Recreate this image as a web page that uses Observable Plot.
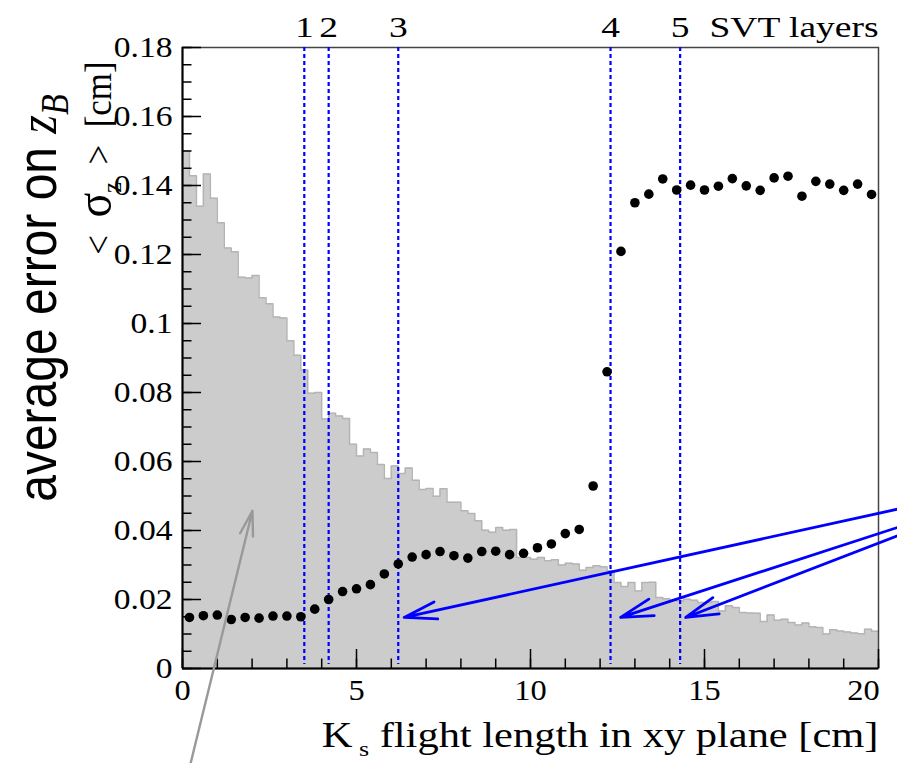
<!DOCTYPE html>
<html><head><meta charset="utf-8">
<script src="https://cdn.jsdelivr.net/npm/d3@7"></script>
<script src="https://cdn.jsdelivr.net/npm/@observablehq/plot@0.6"></script>
<style>body{margin:0;background:#fff} svg{display:block}</style>
</head><body><div id="chart"></div>
<script>
// histogram of Ks flight length (bins of 0.2 cm from 0 to 20), drawn on the y scale
const binWidth = 0.2;
const histValues = [
  0.1500,0.1428,0.1340,0.1433,0.1363,0.1292,0.1219,0.1208,0.1134,0.1132,
  0.1139,0.1075,0.1057,0.1019,0.1016,0.0950,0.0908,0.0865,0.0798,0.0800,
  0.0723,0.0740,0.0732,0.0725,0.0650,0.0616,0.0636,0.0626,0.0591,0.0551,
  0.0587,0.0565,0.0581,0.0546,0.0519,0.0522,0.0499,0.0521,0.0482,0.0482,
  0.0457,0.0449,0.0428,0.0401,0.0395,0.0409,0.0401,0.0403,0.0322,0.0322,
  0.0317,0.0322,0.0312,0.0315,0.0300,0.0305,0.0303,0.0285,0.0293,0.0298,
  0.0295,0.0283,0.0249,0.0238,0.0249,0.0225,0.0249,0.0250,0.0206,0.0202,
  0.0198,0.0196,0.0201,0.0198,0.0191,0.0191,0.0194,0.0167,0.0182,0.0177,
  0.0162,0.0161,0.0160,0.0136,0.0155,0.0140,0.0143,0.0133,0.0126,0.0132,
  0.0121,0.0119,0.0100,0.0112,0.0109,0.0106,0.0103,0.0101,0.0114,0.0108
];
// average sigma_z points
const pointX = [
  0.2,0.6,1.0,1.4,1.8,2.2,2.6,3.0,3.4,3.8,4.2,4.6,5.0,5.4,5.8,6.2,6.6,7.0,7.4,7.8,
  8.2,8.6,9.0,9.4,9.8,10.2,10.6,11.0,11.4,11.8,12.2,12.6,13.0,13.4,13.8,14.2,14.6,15.0,15.4,15.8,
  16.2,16.6,17.0,17.4,17.8,18.2,18.6,19.0,19.4,19.8
];
const sigmaZ = [
  0.0148,0.0153,0.0155,0.0142,0.0148,0.0146,0.0152,0.0152,0.0150,0.0172,
  0.0200,0.0223,0.0231,0.0243,0.0274,0.0303,0.0323,0.0330,0.0339,0.0327,
  0.0320,0.0339,0.0340,0.0330,0.0334,0.0350,0.0361,0.0391,0.0403,0.0529,
  0.0860,0.1209,0.1350,0.1375,0.1419,0.1387,0.1401,0.1387,0.1398,0.1420,
  0.1399,0.1386,0.1422,0.1427,0.1369,0.1412,0.1404,0.1386,0.1404,0.1374
];
// SVT layer radii
const layerX = [3.5, 4.2, 6.2, 12.3, 14.3];
const layerLabels = ["1", "2", "3", "4", "5"];
// annotation arrows
const blueX1 = [20.55, 20.55, 20.55];
const blueY1 = [0.0462, 0.0409, 0.0385];
const blueX2 = [6.37, 12.59, 14.46];
const blueY2 = [0.0148, 0.0148, 0.0148];
const grayArrow = [{x1: 0.23, y1: -0.0276, x2: 2.01, y2: 0.0457}];
// ticks
const xTicks = [0, 5, 10, 15, 20];
const xTickLabels = ["0", "5", "10", "15", "20"];
const xMinor = d3.range(0, 21, 1);
const yTicks = [0, 0.02, 0.04, 0.06, 0.08, 0.1, 0.12, 0.14, 0.16, 0.18];
const yTickLabels = ["0", "0.02", "0.04", "0.06", "0.08", "0.1", "0.12", "0.14", "0.16", "0.18"];
const yMinor = d3.range(0, 37).map(i => +(i * 0.005).toFixed(3));

const steps = histValues.map((v, i) => ({x: +(i * binWidth).toFixed(2), y: v}));
steps.push({x: 20, y: histValues[histValues.length - 1]});
const points = pointX.map((x, i) => ({x, y: sigmaZ[i]}));
const blueArrows = blueX1.map((x1, i) => ({x1, y1: blueY1[i], x2: blueX2[i], y2: blueY2[i]}));
const xLabelFmt = d => xTickLabels[xTicks.indexOf(d)];
const xLast = xTicks[xTicks.length - 1];

const serif = "Liberation Serif, Times New Roman, serif";
const sans = "Liberation Sans, Arial, Helvetica, sans-serif";

const chart = Plot.plot({
  width: 897, height: 763,
  marginLeft: 182, marginRight: 19, marginTop: 47, marginBottom: 95,
  style: {fontFamily: serif, fontSize: "30px", background: "#fff", color: "#000"},
  x: {domain: [0, 20], label: null},
  y: {domain: [0, 0.18], label: null},
  marks: [
    Plot.areaY(steps, {x: "x", y: "y", curve: "step-after", fill: "#cccccc"}),
    Plot.lineY(steps, {x: "x", y: "y", curve: "step-after", stroke: "#b4b4b4", strokeWidth: 1.5}),
    Plot.frame({stroke: "#444", strokeWidth: 1.5}),
    Plot.ruleX([0], {stroke: "#000", strokeWidth: 2}),
    Plot.ruleY([0], {stroke: "#000", strokeWidth: 2}),
    // inward ticks
    Plot.axisY({ticks: yMinor, tickSize: -9.5, tickFormat: () => "", label: null, strokeWidth: 1.5}),
    Plot.axisY({ticks: yTicks, tickSize: -19, tickFormat: () => "", label: null, strokeWidth: 1.5}),
    Plot.axisX({ticks: xMinor, tickSize: -9.5, tickFormat: () => "", label: null, strokeWidth: 1.5}),
    Plot.axisX({ticks: xTicks, tickSize: -19, tickFormat: () => "", label: null, strokeWidth: 1.5}),
    // tick labels
    Plot.axisY({ticks: yTicks, tickSize: 0, tickPadding: 10, label: null, ariaDescription: "y-labels",
      tickFormat: d => yTickLabels[yTicks.indexOf(d)]}),
    Plot.axisX({ticks: xTicks.filter(d => d !== xLast), tickSize: 0, tickPadding: 10, label: null, ariaDescription: "x-labels",
      tickFormat: xLabelFmt}),
    Plot.axisX({ticks: [xLast], tickSize: 0, tickPadding: 10, label: null, ariaDescription: "x-labels",
      tickFormat: xLabelFmt, dx: -15}),
    // SVT layers
    Plot.ruleX(layerX, {stroke: "#0000ff", strokeWidth: 2.2, strokeDasharray: "4,3", insetBottom: 4}),
    Plot.text(layerX, {x: d => d, text: (d, i) => layerLabels[i], frameAnchor: "top", dy: -32, fontSize: 30, ariaDescription: "top-labels"}),
    Plot.text(["SVT layers"], {frameAnchor: "top-right", textAnchor: "end", dy: -32, fontSize: 30, ariaDescription: "top-labels"}),
    // data points
    Plot.dot(points, {x: "x", y: "y", r: 4.8, fill: "#000", stroke: null}),
    // arrows
    Plot.arrow(blueArrows, {x1: "x1", y1: "y1", x2: "x2", y2: "y2", stroke: "#0000ff", strokeWidth: 2.8, headLength: 18, headAngle: 30}),
    Plot.arrow(grayArrow, {x1: "x1", y1: "y1", x2: "x2", y2: "y2", stroke: "#999999", strokeWidth: 2.4, headLength: 16, headAngle: 30}),
    // axis titles
    Plot.text(["X"], {frameAnchor: "bottom-right", textAnchor: "end", dy: 78, fontSize: 36, ariaDescription: "x-title"}),
    Plot.text(["Y1"], {frameAnchor: "left", textAnchor: "middle", lineAnchor: "middle", rotate: -90, dx: -144, dy: -60, fontSize: 48, fontFamily: sans, ariaDescription: "y-title1"}),
    Plot.text(["Y2"], {frameAnchor: "left", textAnchor: "middle", lineAnchor: "middle", rotate: -90, dx: -84, dy: -200, fontSize: 35, ariaDescription: "y-title2"})
  ]
});

document.getElementById("chart").appendChild(chart);
const svg = d3.select(chart);

function rich(sel, parts) {
  sel.text(null).style("white-space", "pre");
  let cur = 0;
  for (const p of parts) {
    const ts = sel.append("tspan").text(p.t);
    const s = p.shift || 0;
    if (s !== cur) { ts.attr("dy", s - cur); cur = s; }
    if (p.size) ts.attr("font-size", p.size);
    if (p.italic) ts.attr("font-style", "italic");
    if (p.family) ts.attr("font-family", p.family);
  }
}
rich(svg.select('g[aria-description="x-title"] text'), [
  {t: "K"}, {t: " s", size: 22, shift: 9}, {t: " flight length in xy plane [cm]", shift: 0}
]);
rich(svg.select('g[aria-description="y-title1"] text'), [
  {t: "average error on "}, {t: "z", family: serif, italic: true},
  {t: "B", family: serif, italic: true, size: 34, shift: 10}
]);
rich(svg.select('g[aria-description="y-title2"] text'), [
  {t: "<  "}, {t: "σ", size: 46}, {t: "z", size: 24, shift: 9}, {t: "  >  [cm]", shift: 0}
]);

function stretch(selector, s) {
  svg.selectAll(selector).each(function() {
    const t = d3.select(this);
    const tr = t.attr("transform") || "";
    t.attr("transform", tr + (tr.includes("rotate") ? ` scale(1,${s})` : ` scale(${s},1)`));
  });
}
stretch('g[aria-description="y-labels"] text', 1.12);
stretch('g[aria-description="x-labels"] text', 1.08);
stretch('g[aria-description="top-labels"] text', 1.25);
stretch('g[aria-description="x-title"] text', 1.18);
stretch('g[aria-description="y-title1"] text', 1.15);
stretch('g[aria-description="y-title2"] text', 1.1);
</script>
</body></html>
